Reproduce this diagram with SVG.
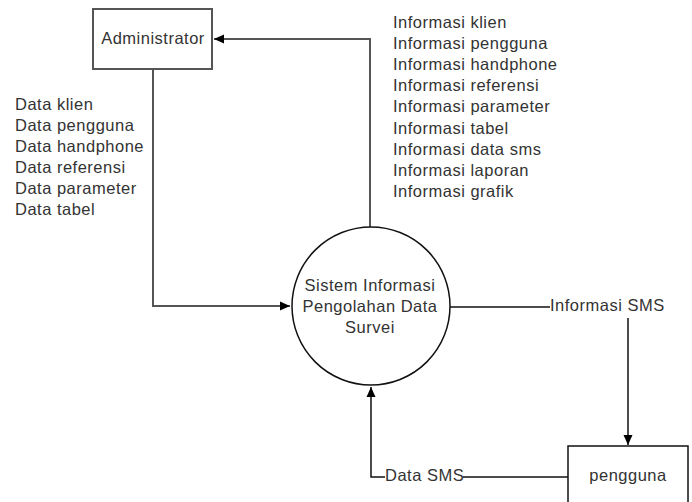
<svg xmlns="http://www.w3.org/2000/svg" width="692" height="502" viewBox="0 0 692 502">
<defs>
<marker id="arr" viewBox="0 0 10 10" refX="10" refY="5" markerWidth="10" markerHeight="10" markerUnits="userSpaceOnUse" orient="auto">
<path d="M0,0.5 L10,5 L0,9.5 Z" fill="#000"/>
</marker>
<style>
text{font-family:"Liberation Sans",Arial,sans-serif;font-size:16.5px;letter-spacing:0.5px;fill:#333}
.c{text-anchor:middle}
.node{fill:#fff;stroke:#111;stroke-width:1.5}
.g{stroke:#555;stroke-width:2}
.ln{fill:none;stroke:#111;stroke-width:1.5}
.lg{fill:none;stroke:#555;stroke-width:2}
</style>
</defs>
<rect width="692" height="502" fill="#fff"/>
<g id="connectors">
<path class="lg" d="M153,69 V306 H290" marker-end="url(#arr)"/>
<path class="lg" d="M370,227 V39 H214" marker-end="url(#arr)"/>
<path class="ln" d="M450,307 H550"/>
<path class="ln" d="M628,318 V445" marker-end="url(#arr)"/>
<path class="ln" d="M568,477 H463"/>
<path class="ln" d="M385,477 H371 V387" marker-end="url(#arr)"/>
</g>
<g id="labels">
<text x="15" y="110">Data klien</text>
<text x="15" y="131">Data pengguna</text>
<text x="15" y="152">Data handphone</text>
<text x="15" y="173">Data referensi</text>
<text x="15" y="194">Data parameter</text>
<text x="15" y="215">Data tabel</text>
<text x="393" y="28">Informasi klien</text>
<text x="393" y="49">Informasi pengguna</text>
<text x="393" y="70">Informasi handphone</text>
<text x="393" y="91">Informasi referensi</text>
<text x="393" y="112">Informasi parameter</text>
<text x="393" y="134">Informasi tabel</text>
<text x="393" y="155">Informasi data sms</text>
<text x="393" y="176">Informasi laporan</text>
<text x="393" y="197">Informasi grafik</text>
<text x="550" y="311">Informasi SMS</text>
<text x="385" y="481">Data SMS</text>
</g>
<g id="administrator">
<rect x="93" y="9" width="119" height="60" fill="#fff" class="g"/>
<text class="c" x="153" y="44">Administrator</text>
</g>
<g id="sistem">
<circle cx="371" cy="306" r="79" class="node"/>
<text class="c" x="370" y="291">Sistem Informasi</text>
<text class="c" x="370" y="312">Pengolahan Data</text>
<text class="c" x="370" y="333">Survei</text>
</g>
<g id="pengguna">
<rect x="568" y="446" width="120" height="64" class="node"/>
<text class="c" x="628" y="481">pengguna</text>
</g>
</svg>
